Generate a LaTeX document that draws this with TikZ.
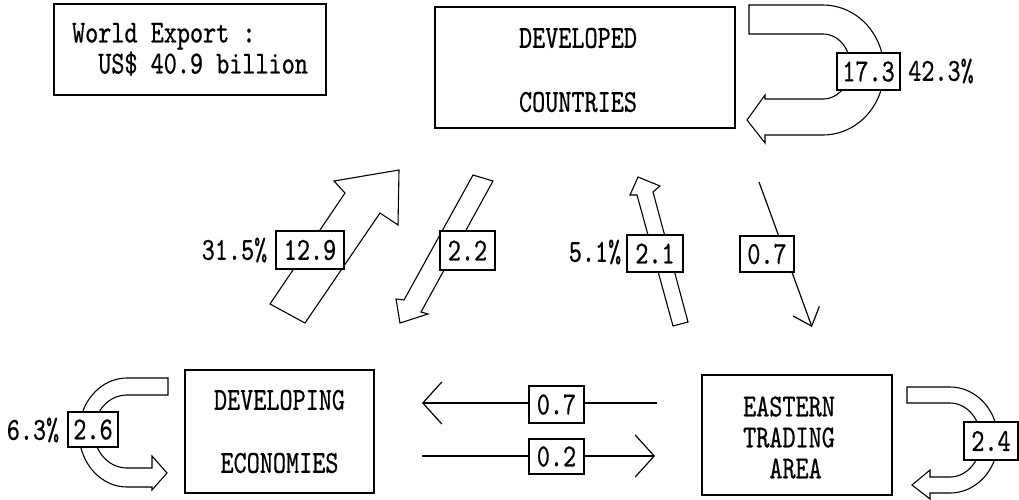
\documentclass[tikz,border=0pt]{standalone}
\usepackage{fontspec}
\usetikzlibrary{arrows.meta}
\newfontfamily\dgfont[FakeStretch=0.78,FakeBold=0.6]{lmmono10-regular.otf}
\begin{document}
\begin{tikzpicture}[x=1pt,y=-1pt,
  every node/.style={font=\dgfont\fontsize{32}{31}\selectfont, inner sep=0pt},
  frame/.style={draw, line width=1.3pt, fill=white},
  lbl/.style={draw, line width=1.2pt, fill=white},
  blk/.style={draw, line width=1.1pt, fill=white},
  thinarrow/.style={line width=1.2pt, -{Straight Barb[length=16pt,width=28pt]}},
  harrow/.style={line width=1.2pt, -{Straight Barb[length=19pt,width=42pt]}},
]
\useasboundingbox (0,0) rectangle (1019,499);

% self loops
\draw[blk] (749,5) -- (823,5) -- plot[domain=-90:90,samples=40] ({823+61*cos(\x)},{70+65*sin(\x)})
  -- (765,135) -- (765,143) -- (747,120) -- (765,95) -- (765,99) -- (823,99)
  -- plot[domain=-90:90,samples=40] ({823+27.5*cos(\x)},{66.5-32.5*sin(\x)}) -- (749,34) -- cycle;
\draw[blk] (907,387) -- (950,387) -- plot[domain=-90:90,samples=40] ({950+48*cos(\x)},{440+53*sin(\x)})
  -- (930,493) -- (930,499) -- (912,485) -- (930,470) -- (930,477) -- (950,477)
  -- plot[domain=-90:90,samples=40] ({950+31*cos(\x)},{440-37*sin(\x)}) -- (907,403) -- cycle;
\draw[blk] (168,378) -- (127,378) -- plot[domain=-90:90,samples=40] ({127-48*cos(\x)},{432.5+54.5*sin(\x)})
  -- (152,487) -- (152,490) -- (167,473) -- (152,456) -- (152,468) -- (127,468)
  -- plot[domain=-90:90,samples=40] ({127-33*cos(\x)},{431.5-36.5*sin(\x)}) -- (168,395) -- cycle;

% block arrows
\draw[blk] (270,304) -- (345,193) -- (334,181) -- (399,170) -- (398,225) -- (380,213) -- (305,323) -- cycle;
\draw[blk] (473,175) -- (404,300) -- (396,299) -- (400,323) -- (428,314) -- (421,312) -- (493,181) -- cycle;
\draw[blk] (638,177) -- (660,186) -- (653,192) -- (688,322) -- (673,326) -- (637,195) -- (630,195) -- cycle;

% thin arrows
\coordinate (d07s) at (759,182);
\coordinate (d07t) at (812,327);
\draw[thinarrow] (d07s) -- (d07t);
\coordinate (h07s) at (657,403);
\coordinate (h07t) at (422,403);
\draw[harrow] (h07s) -- (h07t);
\coordinate (h02s) at (422,456);
\coordinate (h02t) at (655,456);
\draw[harrow] (h02s) -- (h02t);

% main boxes
\node[frame, minimum width=272pt, minimum height=91pt, align=left] (world) at (190,49.5)
  {World Export :\\~~US\$ 40.9 billion};
\node[frame, minimum width=300pt, minimum height=121pt] (dev) at (585,67.5) {};
\node[align=center] (devtext) at (578,70) {DEVELOPED\\[33pt]COUNTRIES};
\node[frame, minimum width=189pt, minimum height=123pt, align=center] (ecn) at (279.5,431.5)
  {DEVELOPING\\[32pt]ECONOMIES};
\node[frame, minimum width=190pt, minimum height=120pt] (eta) at (797,435) {};
\node[align=left] (etatext) at (789,437.5) {EASTERN\\TRADING\\~~AREA};

% value labels
\node[lbl, minimum width=63pt, minimum height=37pt] (n173) at (868.5,71.5) {17.3};
\node[lbl, minimum width=54pt, minimum height=38pt] (n24) at (991,441) {2.4};
\node[lbl, minimum width=50pt, minimum height=35pt] (n26) at (93,429.5) {2.6};
\node[lbl, minimum width=68pt, minimum height=38pt] (n129) at (310,250) {12.9};
\node[lbl, minimum width=55pt, minimum height=39pt] (n22) at (467.5,250.5) {2.2};
\node[lbl, minimum width=56pt, minimum height=37pt] (n21) at (655,253.5) {2.1};
\node[lbl, minimum width=54pt, minimum height=36pt] (nd07) at (767,254) {0.7};
\node[lbl, minimum width=55pt, minimum height=37pt] (nh07) at (556.5,404.5) {0.7};
\node[lbl, minimum width=55pt, minimum height=35pt] (nh02) at (556.5,456.5) {0.2};

% percentages
\node (p423) at (941,71) {42.3\%};
\node (p315) at (234.5,250) {31.5\%};
\node (p51) at (595,252) {5.1\%};
\node (p63) at (33,430) {6.3\%};
\end{tikzpicture}
\end{document}
